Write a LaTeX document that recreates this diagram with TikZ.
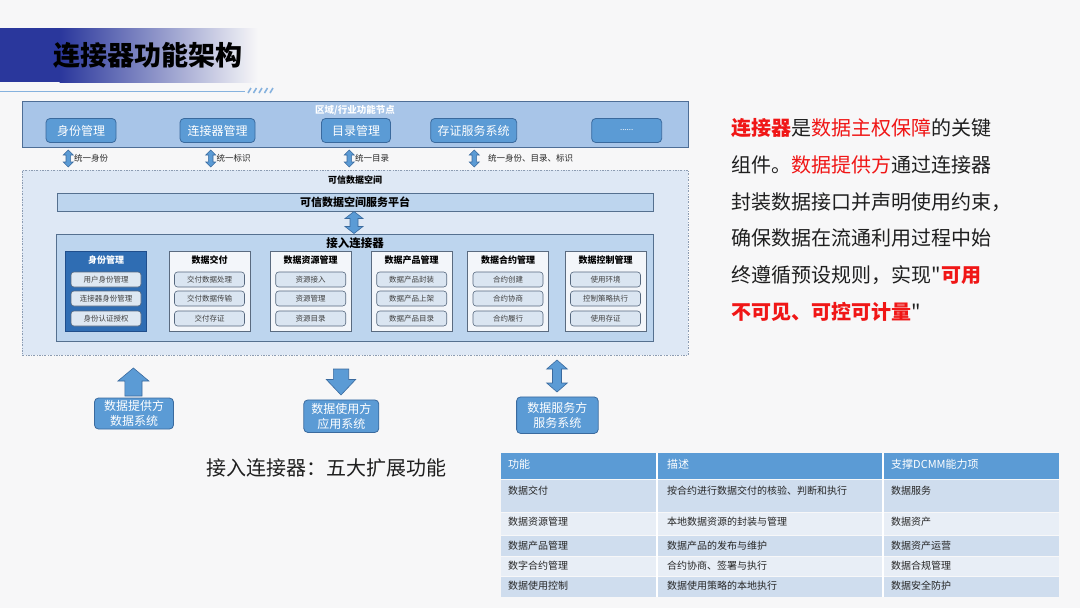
\documentclass[tikz,border=0pt]{standalone}
\usepackage{fontspec}
\setmainfont{Noto Sans CJK SC}
\newfontfamily\plainq{Noto Sans CJK SC}
\usetikzlibrary{calc}
\definecolor{bg}{HTML}{F7F7F8}
\definecolor{titledark}{HTML}{2A379C}
\definecolor{ulc}{HTML}{86B2DE}
\definecolor{topf}{HTML}{A8C5E8}
\definecolor{topb}{HTML}{4E6E96}
\definecolor{btnf}{HTML}{5B9BD5}
\definecolor{btnb}{HTML}{3A6A9E}
\definecolor{dashf}{HTML}{DEE8F5}
\definecolor{dashb}{HTML}{8C9CB2}
\definecolor{platf}{HTML}{BDD5EE}
\definecolor{platb}{HTML}{55708F}
\definecolor{modf}{HTML}{F3F6FA}
\definecolor{modb}{HTML}{5A6B80}
\definecolor{darkmodf}{HTML}{2F6DB3}
\definecolor{darkmodb}{HTML}{1F4E8C}
\definecolor{itemf}{HTML}{DAE5F1}
\definecolor{itemb}{HTML}{56687E}
\definecolor{itemt}{HTML}{404040}
\definecolor{rowa}{HTML}{CFDDEE}
\definecolor{rowb}{HTML}{E8EEF6}
\definecolor{hl}{RGB}{240,22,22}
\newcommand\myfs[1]{\fontsize{#1}{#1}\selectfont}
% vertical block arrows: x, ytop, ybot, half head, half shaft, head length
\newcommand\uarrow[6]{\filldraw[barrow] (#1,#2) -- (#1+#4,#2+#6) -- (#1+#5,#2+#6) -- (#1+#5,#3) -- (#1-#5,#3) -- (#1-#5,#2+#6) -- (#1-#4,#2+#6) -- cycle;}
\newcommand\darrow[6]{\filldraw[barrow] (#1,#3) -- (#1+#4,#3-#6) -- (#1+#5,#3-#6) -- (#1+#5,#2) -- (#1-#5,#2) -- (#1-#5,#3-#6) -- (#1-#4,#3-#6) -- cycle;}
\newcommand\udarrow[6]{\filldraw[barrow] (#1,#2) -- (#1+#4,#2+#6) -- (#1+#5,#2+#6) -- (#1+#5,#3-#6) -- (#1+#4,#3-#6) -- (#1,#3) -- (#1-#4,#3-#6) -- (#1-#5,#3-#6) -- (#1-#5,#2+#6) -- (#1-#4,#2+#6) -- cycle;}
\begin{document}
\begin{tikzpicture}[x=1pt,y=-1pt,
  barrow/.style={fill=btnf, draw=btnb, line width=0.6},
  btn/.style={draw=btnb, fill=btnf, rounded corners=4, line width=0.8, text=white, font=\myfs{12}, minimum height=24, inner sep=0},
  lbl/.style={anchor=west, font=\myfs{8.5}, text=black!85, inner sep=0},
  mod/.style={draw=modb, fill=modf, line width=0.6, minimum width=81, minimum height=79.5, inner sep=0},
  darkmod/.style={mod, draw=darkmodb, fill=darkmodf},
  modt/.style={font=\myfs{9}\bfseries, inner sep=0},
  item/.style={draw=itemb, fill=itemf, rounded corners=3, line width=0.6, minimum width=70, minimum height=15, inner sep=0, font=\myfs{7.5}, text=itemt},
  sysbox/.style={draw=btnb, fill=btnf, rounded corners=4, line width=0.8, text=white, font=\fontsize{12}{15}\selectfont, align=center, inner sep=0},
  cell/.style={anchor=west, inner sep=0, font=\myfs{10}, text=black!85},
  hcell/.style={anchor=west, inner sep=0, font=\myfs{11}, text=white},
  para/.style={anchor=west, inner sep=0, font=\myfs{20}, text=black!88}
]
\useasboundingbox (0,0) rectangle (1080,608);
\fill[bg] (0,0) rectangle (1080,608);

% title band
\fill[titledark] (0,28) rectangle (60,82);
\shade[left color=titledark, right color=bg] (59.5,28) rectangle (258,82);
\node[font=\myfs{27}\bfseries, inner sep=0] (title) at (148,55) {连接器功能架构};
\draw[ulc, line width=1] (0,91) -- (245,91);
\foreach \i in {0,...,4} \draw[ulc, line width=1.6] (248+\i*5.5,93) -- (251+\i*5.5,88);

% top region box
\node[draw=topb, fill=topf, line width=0.8, minimum width=666, minimum height=46, inner sep=0] (top) at (355,124) {};
\node[font=\myfs{9.5}\bfseries, text=white, inner sep=0] (toptitle) at (355,110) {区域/行业功能节点};
\node[btn, minimum width=70] (b1) at (81,130.5) {身份管理};
\node[btn, minimum width=75] (b2) at (217.5,130.5) {连接器管理};
\node[btn, minimum width=69] (b3) at (356,130.5) {目录管理};
\node[btn, minimum width=86] (b4) at (473.7,130.5) {存证服务系统};
\node[btn, minimum width=70, font=\myfs{8}] (b5) at (626.7,130.5) {......};

% small double arrows with labels
\udarrow{68.3}{150}{167}{5}{2.3}{5}
\node[lbl] (l1) at (74,158) {统一身份};
\udarrow{210.7}{150}{167}{5}{2.3}{5}
\node[lbl] (l2) at (216.5,158) {统一标识};
\udarrow{349.3}{150}{167}{5}{2.3}{5}
\node[lbl] (l3) at (355,158) {统一目录};
\udarrow{474.3}{150}{167}{5}{2.3}{5}
\node[lbl] (l4) at (488,158) {统一身份、目录、标识};

% trusted data space
\node[draw=dashb, fill=dashf, line width=0.7, dash pattern=on 2pt off 1.5pt on 0.6pt off 1.5pt, minimum width=666, minimum height=185, inner sep=0] (space) at (355,262.5) {};
\node[font=\myfs{9}\bfseries, inner sep=0] (spacet) at (355,180) {可信数据空间};
\node[draw=platb, fill=platf, line width=0.8, minimum width=596, minimum height=18, inner sep=0, font=\myfs{11}\bfseries] (plat) at (355,202) {可信数据空间服务平台};
\udarrow{354}{211.5}{233.5}{9}{4}{7}
\node[draw=platb, fill=platf, line width=0.8, minimum width=596.5, minimum height=107, inner sep=0] (conn) at (354.8,287.5) {};
\node[font=\myfs{11.5}\bfseries, inner sep=0] (connt) at (355,243) {接入连接器};

% modules
\node[darkmod] (m1) at (106,291.25) {};
\node[modt, text=white] at (106,260) {身份管理};
\node[item, fill=itemf!90!white] (m1a) at (106,279.5) {用户身份管理};
\node[item, fill=itemf!90!white] (m1b) at (106,298.5) {连接器身份管理};
\node[item, fill=itemf!90!white] (m1c) at (106,318.5) {身份认证授权};

\node[mod] (m2) at (209.5,291.25) {};
\node[modt] at (209.5,260) {数据交付};
\node[item] (m2a) at (209.5,279.5) {交付数据处理};
\node[item] (m2b) at (209.5,298.5) {交付数据传输};
\node[item] (m2c) at (209.5,318.5) {交付存证};

\node[mod] (m3) at (310.7,291.25) {};
\node[modt] at (310.7,260) {数据资源管理};
\node[item] (m3a) at (310.7,279.5) {资源接入};
\node[item] (m3b) at (310.7,298.5) {资源管理};
\node[item] (m3c) at (310.7,318.5) {资源目录};

\node[mod] (m4) at (411.7,291.25) {};
\node[modt] at (411.7,260) {数据产品管理};
\node[item] (m4a) at (411.7,279.5) {数据产品封装};
\node[item] (m4b) at (411.7,298.5) {数据产品上架};
\node[item] (m4c) at (411.7,318.5) {数据产品目录};

\node[mod] (m5) at (508,291.25) {};
\node[modt] at (508,260) {数据合约管理};
\node[item] (m5a) at (508,279.5) {合约创建};
\node[item] (m5b) at (508,298.5) {合约协商};
\node[item] (m5c) at (508,318.5) {合约履行};

\node[mod] (m6) at (605.5,291.25) {};
\node[modt] at (605.5,260) {数据控制管理};
\node[item] (m6a) at (605.5,279.5) {使用环境};
\node[item] (m6b) at (605.5,298.5) {控制策略执行};
\node[item] (m6c) at (605.5,318.5) {使用存证};

% bottom systems
\uarrow{133.4}{368}{396}{15.5}{8.6}{13}
\node[sysbox, minimum width=79, minimum height=31] (s1) at (134,413.5) {数据提供方\\数据系统};
\darrow{341}{369}{395}{14.7}{7.7}{15.5}
\node[sysbox, minimum width=75, minimum height=32.5] (s2) at (341.3,416.2) {数据使用方\\应用系统};
\udarrow{557}{360}{392}{10.3}{4.5}{9}
\node[sysbox, minimum width=81.6, minimum height=36.5] (s3) at (557.4,415.2) {数据服务方\\服务系统};

\node[font=\myfs{20}, inner sep=0, text=black!88] (sub) at (326.5,468) {接入连接器：五大扩展功能};

% table
\fill[btnf] (500.5,453) rectangle (1058.6,479);
\fill[rowa] (500.5,480) rectangle (1058.6,512);
\fill[rowb] (500.5,513) rectangle (1058.6,535);
\fill[rowa] (500.5,536) rectangle (1058.6,556);
\fill[rowb] (500.5,557) rectangle (1058.6,576);
\fill[rowa] (500.5,577) rectangle (1058.6,597);
\draw[white, line width=1.5] (657,453) -- (657,597) (883,453) -- (883,597);
\node[hcell] (h1) at (508,464.5) {功能};
\node[hcell] (h2) at (667,464.5) {描述};
\node[hcell] (h3) at (891,464.5) {支撑DCMM能力项};
\node[cell] at (508,491) {数据交付};
\node[cell] at (667,491) {按合约进行数据交付的核验、判断和执行};
\node[cell] at (891,491) {数据服务};
\node[cell] at (508,522) {数据资源管理};
\node[cell] at (667,522) {本地数据资源的封装与管理};
\node[cell] at (891,522) {数据资产};
\node[cell] at (508,545.5) {数据产品管理};
\node[cell] at (667,545.5) {数据产品的发布与维护};
\node[cell] at (891,545.5) {数据资产运营};
\node[cell] at (508,565.5) {数字合约管理};
\node[cell] at (667,565.5) {合约协商、签署与执行};
\node[cell] at (891,565.5) {数据合规管理};
\node[cell] at (508,586) {数据使用控制};
\node[cell] at (667,586) {数据使用策略的本地执行};
\node[cell] at (891,586) {数据安全防护};

% right paragraph
\node[para] (p1) at (731.5,128.3) {{\bfseries\color{hl}连接器}是{\color{hl}数据主权保障}的关键};
\node[para] (p2) at (731.5,165) {组件。{\color{hl}数据提供方}通过连接器};
\node[para] (p3) at (731.5,201.7) {封装数据接口并声明使用约束，};
\node[para] (p4) at (731.5,238.3) {确保数据在流通利用过程中始};
\node[para] (p5) at (731.5,275) {终遵循预设规则，实现{\plainq"}{\bfseries\color{hl}可用}};
\node[para] (p6) at (731.5,311.7) {{\bfseries\color{hl}不可见、可控可计量}{\plainq"}};
\end{tikzpicture}
\end{document}
